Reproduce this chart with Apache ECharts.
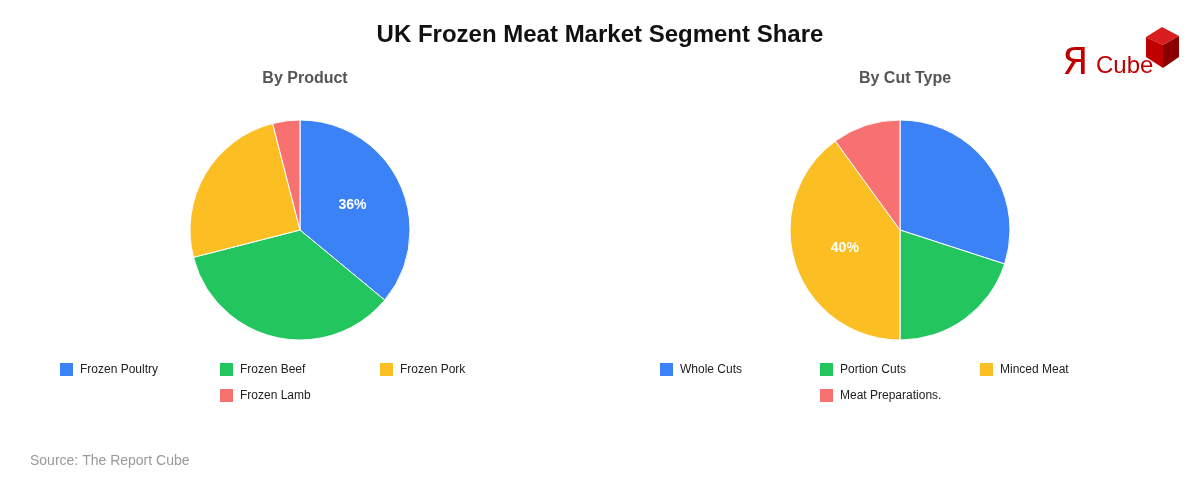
<!DOCTYPE html>
<html><head><meta charset="utf-8">
<script src="https://cdn.jsdelivr.net/npm/echarts@6/dist/echarts.min.js"></script>
<style>html,body{margin:0;padding:0;background:#fff}#c{width:1200px;height:480px}</style>
</head><body><div id="c"></div>
<script>
const productCategories = ['Frozen Poultry', 'Frozen Beef', 'Frozen Pork', 'Frozen Lamb'];
const productValues = [36, 35, 25, 4];
const cutCategories = ['Whole Cuts', 'Portion Cuts', 'Minced Meat', 'Meat Preparations.'];
const cutValues = [30, 20, 40, 10];
const colors = ['#3b82f6', '#22c55e', '#fbbf24', '#f87171'];

const FONT = '"Liberation Sans", Arial, sans-serif';
const chart = echarts.init(document.getElementById('c'));

function pieData(cats, vals) {
  const maxV = Math.max(...vals);
  return cats.map((n, i) => ({
    name: n, value: vals[i],
    itemStyle: { color: colors[i] },
    label: { show: vals[i] === maxV }
  }));
}
function pieSeries(cats, vals, cx) {
  return {
    type: 'pie', center: [cx, 230], radius: [0, 110], startAngle: 90, clockwise: true,
    animation: false,
    itemStyle: { borderColor: '#fff', borderWidth: 1 },
    label: { position: 'inside', formatter: '{d}%', color: '#fff', fontWeight: 'bold', fontSize: 14, fontFamily: FONT },
    labelLine: { show: false },
    emphasis: { disabled: true },
    data: pieData(cats, vals)
  };
}
function legendsFor(cats, x0) {
  const pos = [[0, 0], [160, 0], [320, 0], [160, 26]];
  return cats.map((n, i) => ({
    data: [n], left: x0 + pos[i][0], top: 361 + pos[i][1],
    itemWidth: 15, itemHeight: 15, itemGap: 0, icon: 'rect', padding: 0,
    selectedMode: false,
    textStyle: { fontSize: 12, color: '#222', fontFamily: FONT, padding: [0, 0, 0, 1] }
  }));
}

chart.setOption({
  backgroundColor: '#fff',
  title: [
    { text: 'UK Frozen Meat Market Segment Share', left: 'center', top: 18, textStyle: { fontSize: 24, fontWeight: 'bold', color: '#111', fontFamily: FONT } },
    { text: 'By Product', left: 300, textAlign: 'center', top: 66, textStyle: { fontSize: 16, fontWeight: 'bold', color: '#555', fontFamily: FONT } },
    { text: 'By Cut Type', left: 900, textAlign: 'center', top: 66, textStyle: { fontSize: 16, fontWeight: 'bold', color: '#555', fontFamily: FONT } },
    { text: 'Source: The Report Cube', left: 25, top: 449, textStyle: { fontSize: 14, fontWeight: 'normal', color: '#999', fontFamily: FONT } }
  ],
  legend: legendsFor(productCategories, 58).concat(legendsFor(cutCategories, 658)),
  series: [pieSeries(productCategories, productValues, 300), pieSeries(cutCategories, cutValues, 900)],
  graphic: [
    { type: 'polygon', shape: { points: [[1162, 27], [1179, 36], [1163, 45], [1146, 37]] }, style: { fill: '#d81e1e' } },
    { type: 'polygon', shape: { points: [[1146, 37], [1163, 45], [1163, 68], [1146, 57]] }, style: { fill: '#c00000' } },
    { type: 'polygon', shape: { points: [[1163, 45], [1179, 36], [1179, 57], [1163, 68]] }, style: { fill: '#8a0000' } },
    { type: 'text', left: 1062, top: 45, style: { text: 'Я', fontSize: 38, fill: '#c00000', fontFamily: '"DejaVu Sans", sans-serif' } },
    { type: 'text', left: 1096, top: 54, style: { text: 'Cube', fontSize: 24, fill: '#c00000', fontFamily: FONT, stroke: '#fff', lineWidth: 0 } }
  ]
});
</script></body></html>
